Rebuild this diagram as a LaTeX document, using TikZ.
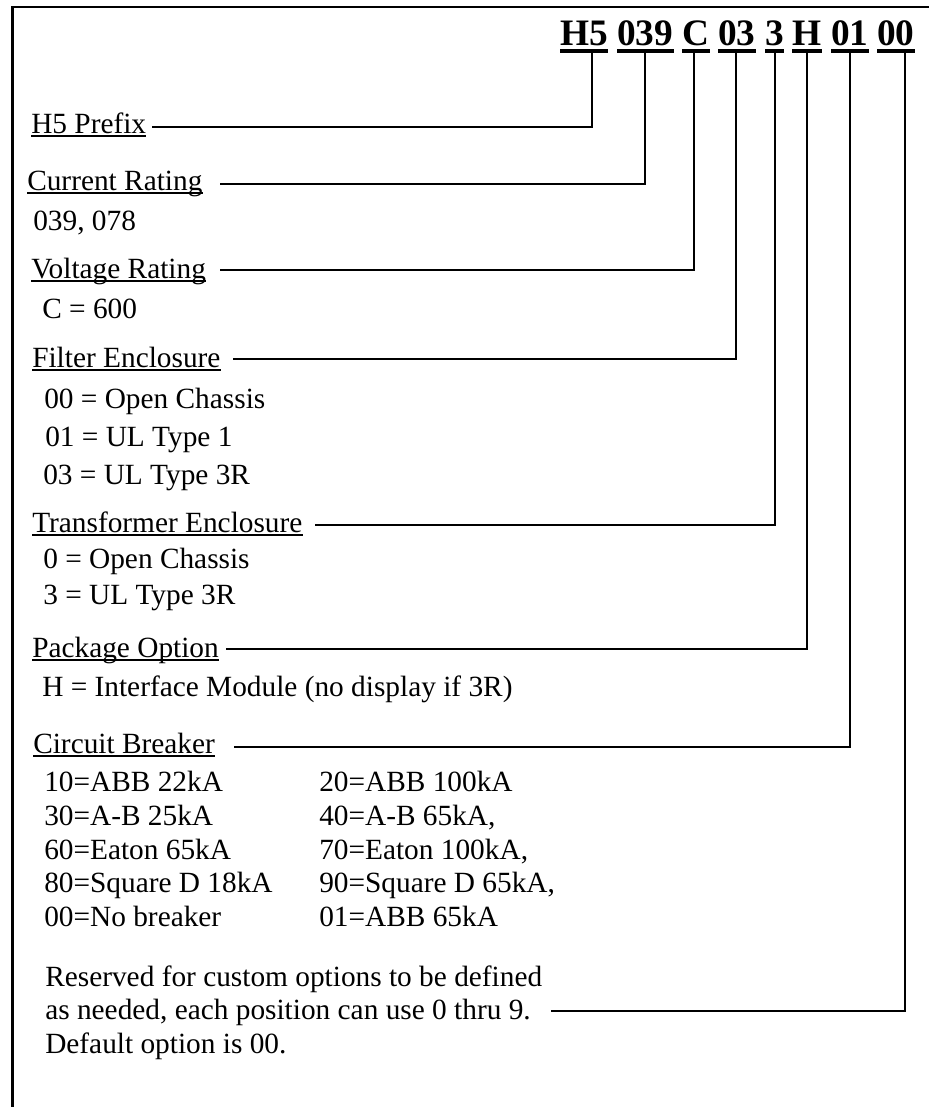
\documentclass[tikz,border=0pt]{standalone}
\usepackage{fontspec}
\setmainfont{Liberation Serif}
\newcommand\bodyfont{\fontsize{22}{27}\selectfont}
\newcommand\codefont{\fontsize{28}{34}\selectfont\bfseries}
\tikzset{
  txt/.style={inner sep=0pt, anchor=base west, font=\bodyfont},
  code/.style={inner sep=0pt, anchor=base west, font=\codefont},
  frameline/.style={line width=2pt},
  conn/.style={line width=1.5pt},
  uline/.style={line width=1.3pt},
  cline/.style={line width=2.5pt},
}
\newcommand\ul[1]{\draw[uline] ([yshift=-2.4pt]#1.base west) -- ([yshift=-2.4pt]#1.base east);}
\newcommand\cul[1]{\draw[cline] ([yshift=-4.5pt]#1.base west) -- ([yshift=-4.5pt]#1.base east);}
\begin{document}
\begin{tikzpicture}[x=0.75pt,y=-0.75pt]
\useasboundingbox (0,0) rectangle (929,1107);
\draw[frameline] (12.5,1107) -- (12.5,7) -- (929,7);

% code groups
\node[code] (gH5) at (560,45) {H5};
\node[code] (g039) at (617,45) {039};
\node[code] (gC) at (682,45) {C};
\node[code] (g03) at (718,45) {03};
\node[code] (g3) at (765,45) {3};
\node[code] (gH) at (792,45) {H};
\node[code] (g01) at (831,45) {01};
\node[code] (g00) at (877,45) {00};
\cul{gH5}\cul{g039}\cul{gC}\cul{g03}\cul{g3}\cul{gH}\cul{g01}\cul{g00}

% labels
\node[txt] (lPrefix) at (31,133) {H5 Prefix};
\node[txt] (lCurrent) at (27,190) {Current Rating};
\node[txt] (vCurrent) at (33,230) {039, 078};
\node[txt] (lVoltage) at (31,278) {Voltage Rating};
\node[txt] (vVoltage) at (42,318) {C = 600};
\node[txt] (lFilter) at (32,367) {Filter Enclosure};
\node[txt] (vFilterA) at (44,408) {00 = Open Chassis};
\node[txt] (vFilterB) at (45,446) {01 = UL Type 1};
\node[txt] (vFilterC) at (43,484) {03 = UL Type 3R};
\node[txt] (lTrans) at (32,532) {Transformer Enclosure};
\node[txt] (vTransA) at (43,568) {0 = Open Chassis};
\node[txt] (vTransB) at (43,604) {3 = UL Type 3R};
\node[txt] (lPackage) at (32,657) {Package Option};
\node[txt] (vPackage) at (42,696) {H = Interface Module (no display if 3R)};
\node[txt] (lBreaker) at (33,753) {Circuit Breaker};
\node[txt] (bA1) at (44,791) {10=ABB 22kA};
\node[txt] (bA2) at (319,791) {20=ABB 100kA};
\node[txt] (bB1) at (44,825) {30=A-B 25kA};
\node[txt] (bB2) at (319,825) {40=A-B 65kA,};
\node[txt] (bC1) at (44,859) {60=Eaton 65kA};
\node[txt] (bC2) at (319,859) {70=Eaton 100kA,};
\node[txt] (bD1) at (44,892) {80=Square D 18kA};
\node[txt] (bD2) at (319,892) {90=Square D 65kA,};
\node[txt] (bE1) at (44,926) {00=No breaker};
\node[txt] (bE2) at (319,926) {01=ABB 65kA};
\node[txt] (rA) at (45,986) {Reserved for custom options to be defined};
\node[txt] (rB) at (45,1019) {as needed, each position can use 0 thru 9.};
\node[txt] (rC) at (45,1053) {Default option is 00.};
\ul{lPrefix}\ul{lCurrent}\ul{lVoltage}\ul{lFilter}\ul{lTrans}\ul{lPackage}\ul{lBreaker}

% connector start points
\coordinate (sPrefix) at (152,127);
\coordinate (sCurrent) at (220,184);
\coordinate (sVoltage) at (220,270);
\coordinate (sFilter) at (233,359);
\coordinate (sTrans) at (315,525);
\coordinate (sPackage) at (226,649);
\coordinate (sBreaker) at (234,747);
\coordinate (sReserved) at (551,1011);

\draw[conn] (sPrefix) -| ([xshift=6pt,yshift=-5.6pt]gH5.south);
\draw[conn] (sCurrent) -| ([yshift=-5.6pt]g039.south);
\draw[conn] (sVoltage) -| ([xshift=-1pt,yshift=-5.6pt]gC.south);
\draw[conn] (sFilter) -| ([xshift=-0.7pt,yshift=-5.6pt]g03.south);
\draw[conn] (sTrans) -| ([yshift=-5.6pt]g3.south);
\draw[conn] (sPackage) -| ([yshift=-5.6pt]gH.south);
\draw[conn] (sBreaker) -| ([yshift=-5.6pt]g01.south);
\draw[conn] (sReserved) -| ([xshift=6.5pt,yshift=-5.6pt]g00.south);
\end{tikzpicture}
\end{document}
